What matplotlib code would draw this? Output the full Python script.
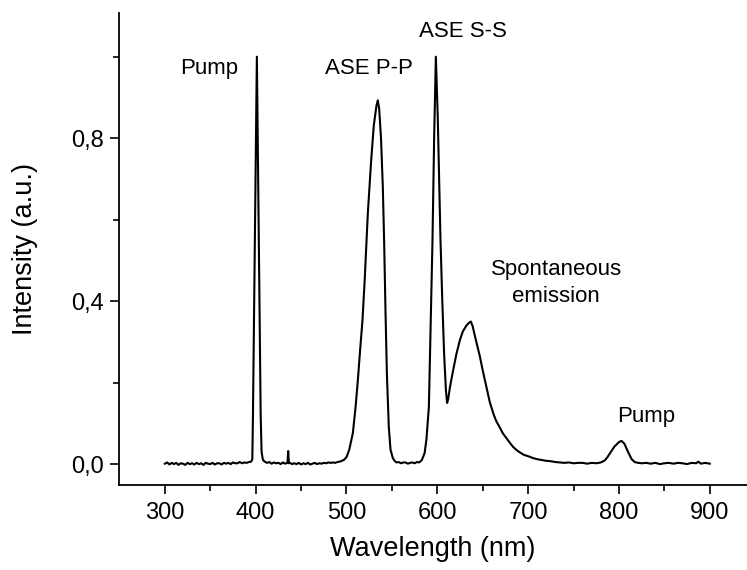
import matplotlib
matplotlib.use("Agg")
import matplotlib.pyplot as plt
from matplotlib.ticker import FixedLocator

plt.rcParams['font.family'] = ['Liberation Sans', 'DejaVu Sans']

# Spectrum (wavelength in nm, intensity in a.u.)
wavelength = [
    300, 302.5, 305, 307.5, 310, 312.5, 315, 317.5, 320, 322.5, 325, 327.5, 330, 332.5, 335, 337.5,
    340, 342.5, 345, 347.5, 350, 352.5, 355, 357.5, 360, 362.5, 365, 367.5, 370, 372.5, 375, 377.5,
    380, 382.5, 385, 387.5, 390, 392.5, 395,
    396.3, 397, 399, 401.3, 403.5, 405.5, 406.5, 408,
    410, 412.5, 415, 417.5, 420, 422.5, 425, 427.5, 430, 432.5, 435, 435.8, 436.6, 438, 440, 442.5,
    445, 447.5, 450, 452.5, 455, 457.5, 460, 462.5, 465, 467.5, 470, 472.5, 475, 477.5, 480, 482.5,
    485, 487.5, 490, 492.5, 495, 497.5, 500, 503, 507, 510, 512.5, 515, 517.6, 520, 523.5, 527,
    530, 533, 534.5, 536, 538, 540, 541.5, 543, 544.5, 546.6, 548.5, 551, 553, 555, 557.5, 560, 562.5,
    565, 567.5, 570, 572.5, 575, 577.5, 580, 583,
    586, 588, 590.7, 592.5, 594.7, 596.5, 598.4, 600.5, 603.5, 605.5, 607.5, 609.5, 610.8, 612,
    614, 617.4, 621, 624.8, 628, 632, 634.5, 636.9, 639, 641, 643, 646.8, 650, 654, 657.8, 662,
    665, 668.8, 672, 676, 680, 683.5, 687, 690, 695, 701.8, 705, 710, 715, 720, 725, 730, 735,
    740, 745, 750, 755, 760, 765, 770, 775, 780, 784.4, 787, 790, 795, 800, 802.8, 806, 810, 814,
    817.4, 821, 825, 830, 835, 840, 845, 850, 855, 860, 865, 870, 875, 880, 885, 887.5, 890, 895, 900,
]
intensity = [
    0.001, 0.004, -0.001, 0.003, 0.000, 0.003, -0.002, 0.002, 0.001, -0.002, 0.003, 0.000, 0.002, -0.001, 0.003, 0.000,
    0.002, -0.002, 0.003, 0.001, 0.000, 0.003, -0.001, 0.002, 0.002, -0.001, 0.003, 0.001, 0.003, 0.000, 0.004, 0.002,
    0.002, 0.005, 0.002, 0.004, 0.003, 0.005, 0.006,
    0.012, 0.12, 0.52, 1.000, 0.55, 0.12, 0.03, 0.010,
    0.006, 0.003, 0.005, 0.001, 0.004, 0.002, 0.003, 0.000, 0.004, 0.001, 0.003, 0.032, 0.002, 0.003, 0.000, 0.002,
    0.000, 0.003, -0.001, 0.002, 0.000, 0.003, -0.001, 0.001, 0.003, 0.000, 0.002, 0.001, 0.003, 0.002, 0.004, 0.003,
    0.004, 0.003, 0.005, 0.006, 0.008, 0.011, 0.017, 0.035, 0.076, 0.140, 0.206, 0.280, 0.353, 0.450, 0.616, 0.740,
    0.830, 0.880, 0.893, 0.872, 0.800, 0.680, 0.540, 0.370, 0.220, 0.090, 0.035, 0.015, 0.008, 0.004, 0.005, 0.002, 0.004,
    0.004, 0.001, 0.003, 0.004, 0.002, 0.005, 0.004, 0.010,
    0.027, 0.060, 0.140, 0.330, 0.550, 0.800, 1.000, 0.850, 0.550, 0.400, 0.270, 0.180, 0.150, 0.160,
    0.190, 0.230, 0.270, 0.304, 0.325, 0.340, 0.346, 0.350, 0.338, 0.318, 0.300, 0.265, 0.230, 0.190, 0.152, 0.122,
    0.105, 0.090, 0.076, 0.064, 0.052, 0.042, 0.035, 0.030, 0.023, 0.018, 0.015, 0.012, 0.010, 0.008, 0.007, 0.005, 0.004,
    0.003, 0.004, 0.002, 0.003, 0.003, 0.001, 0.003, 0.002, 0.004, 0.009, 0.016, 0.026, 0.043, 0.054, 0.057, 0.050, 0.030, 0.012,
    0.005, 0.003, 0.002, 0.003, 0.001, 0.003, 0.000, 0.002, 0.003, 0.001, 0.003, 0.002, 0.000, 0.003, 0.002, 0.006, 0.001, 0.003, 0.001,
]

x_major = [300, 400, 500, 600, 700, 800, 900]
x_minor = [350, 450, 550, 650, 750, 850]
y_major = [0.0, 0.4, 0.8]
y_major_labels = ["0,0", "0,4", "0,8"]
y_minor = [0.2, 0.6, 1.0]

annotations = [
    ("Pump", 349, 0.972),
    ("ASE P-P", 525, 0.972),
    ("ASE S-S", 628, 1.062),
    ("Spontaneous\nemission", 731, 0.445),
    ("Pump", 830, 0.118),
]

fig = plt.figure(figsize=(7.47, 5.70), dpi=100)
ax = fig.add_axes([0.1593, 0.149, 0.8407, 0.828])

ax.plot(wavelength, intensity, color='black', linewidth=1.5)

ax.set_xlim(249.5, 941)
ax.set_ylim(-0.0515, 1.107)

ax.spines['top'].set_visible(False)
ax.spines['right'].set_visible(False)
for s in ('left', 'bottom'):
    ax.spines[s].set_linewidth(1.3)

ax.set_xticks(x_major)
ax.set_xticklabels([str(v) for v in x_major])
ax.xaxis.set_minor_locator(FixedLocator(x_minor))
ax.set_yticks(y_major)
ax.set_yticklabels(y_major_labels)
ax.yaxis.set_minor_locator(FixedLocator(y_minor))

ax.tick_params(which='major', direction='out', length=6.5, width=1.2, labelsize=17)
ax.tick_params(axis='x', which='major', pad=5.5)
ax.tick_params(axis='y', which='major', pad=4.5)
ax.tick_params(which='minor', direction='out', length=4, width=1.2)

ax.set_xlabel("Wavelength (nm)", fontsize=19.5, labelpad=9)
ax.set_ylabel("Intensity (a.u.)", fontsize=19.5, labelpad=24)

for txt, xv, yv in annotations:
    ax.text(xv, yv, txt, fontsize=16, ha='center', va='center', linespacing=1.4)

fig.savefig("out.png", dpi=100)
